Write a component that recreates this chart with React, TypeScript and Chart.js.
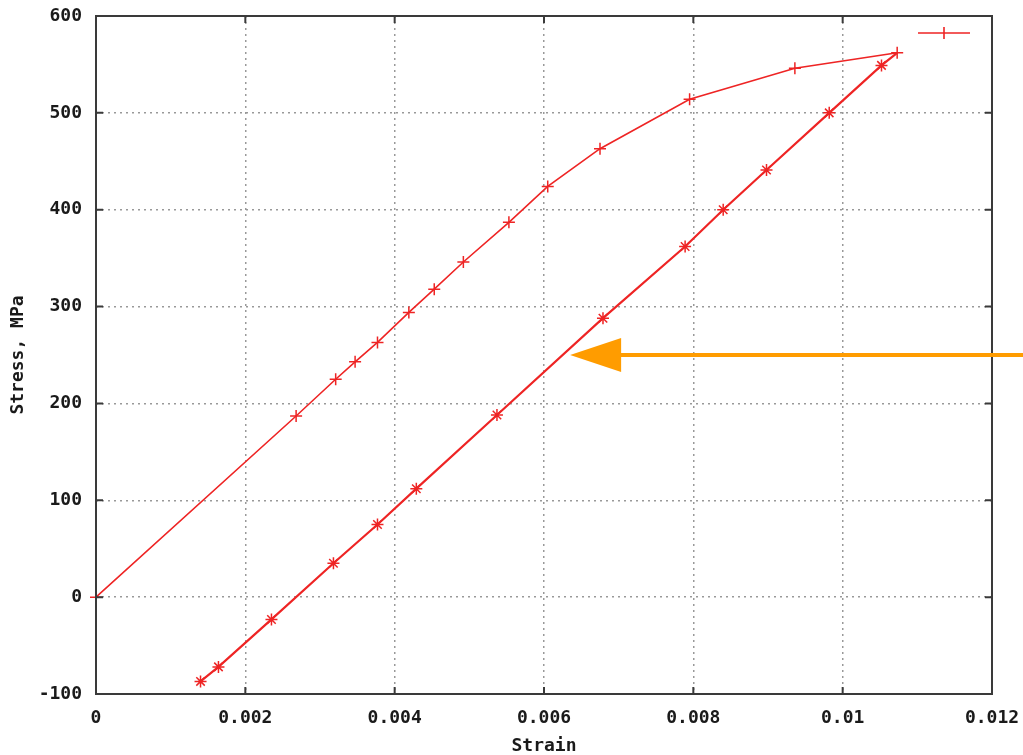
import React, { useEffect, useRef } from "react";
import { Chart, registerables } from "chart.js";
Chart.register(...registerables);

// Loading branch (strain, stress in MPa)
const loadStrain = [0, 0.00268, 0.00321, 0.00347, 0.00377, 0.00419, 0.00453, 0.00492, 0.00553, 0.00605, 0.00675, 0.00795, 0.00936, 0.01073];
const loadStress = [0, 187, 225, 243, 263, 294, 318, 346, 387, 424, 463, 514, 546, 562];
// Unloading branch
const unloadStrain = [0.01073, 0.01052, 0.00982, 0.00898, 0.0084, 0.00789, 0.00679, 0.00537, 0.00429, 0.00377, 0.00318, 0.00235, 0.00164, 0.0014];
const unloadStress = [562, 549, 500, 441, 400, 362, 288, 188, 112, 75, 35, -23, -72, -87];

// Axis ranges / ticks
const xTicks = [0, 0.002, 0.004, 0.006, 0.008, 0.01, 0.012];
const yTicks = [-100, 0, 100, 200, 300, 400, 500, 600];

// Annotation arrow tip (data coords)
const arrowTipStrain = 0.00635;
const arrowTipStress = 250;

const RED = "rgb(238,36,36)";
const FONT = "DejaVu Sans Mono";

const framePlugin = {
  id: "frame",
  afterDraw(chart: any) {
    const { ctx, chartArea: a, scales } = chart;
    ctx.save();
    // frame
    ctx.strokeStyle = "#3a3a3a";
    ctx.lineWidth = 2;
    ctx.strokeRect(a.left, a.top, a.right - a.left, a.bottom - a.top);
    // inward ticks (mirrored)
    ctx.lineWidth = 2;
    const tl = 7;
    ctx.beginPath();
    for (const v of xTicks) {
      const px = scales.x.getPixelForValue(v);
      ctx.moveTo(px, a.bottom);
      ctx.lineTo(px, a.bottom - tl);
      ctx.moveTo(px, a.top);
      ctx.lineTo(px, a.top + tl);
    }
    for (const v of yTicks) {
      const py = scales.y.getPixelForValue(v);
      ctx.moveTo(a.left, py);
      ctx.lineTo(a.left + tl, py);
      ctx.moveTo(a.right, py);
      ctx.lineTo(a.right - tl, py);
    }
    ctx.stroke();

    // legend sample
    const ly = a.top + 17;
    const lx0 = a.right - 74;
    const lx1 = a.right - 22;
    ctx.strokeStyle = RED;
    ctx.lineWidth = 1.6;
    ctx.beginPath();
    ctx.moveTo(lx0, ly);
    ctx.lineTo(lx1, ly);
    const mx = (lx0 + lx1) / 2;
    ctx.moveTo(mx, ly - 6);
    ctx.lineTo(mx, ly + 6);
    ctx.stroke();

    // orange arrow annotation
    const tx = scales.x.getPixelForValue(arrowTipStrain);
    const ty = scales.y.getPixelForValue(arrowTipStress);
    const headLen = 51;
    const headHalf = 17;
    ctx.strokeStyle = "#FF9C00";
    ctx.fillStyle = "#FF9C00";
    ctx.lineWidth = 4;
    ctx.beginPath();
    ctx.moveTo(chart.width, ty);
    ctx.lineTo(tx + headLen - 2, ty);
    ctx.stroke();
    ctx.beginPath();
    ctx.moveTo(tx, ty);
    ctx.lineTo(tx + headLen, ty - headHalf);
    ctx.lineTo(tx + headLen, ty + headHalf);
    ctx.closePath();
    ctx.fill();
    ctx.restore();
  },
};

const fmt = (v: number) => {
  const n = Number(Number(v).toFixed(4));
  return n < 0 ? "-" + String(Math.abs(n)) : String(n);
};

const zeroPad = (s: any) => {
  s.paddingTop = 0;
  s.paddingBottom = 0;
  s.paddingLeft = 0;
  s.paddingRight = 0;
};

export default function App() {
  const ref = useRef<HTMLCanvasElement | null>(null);
  useEffect(() => {
    document.body.style.margin = "0";
    const canvas = ref.current;
    if (!canvas) return;
    const gridColor = (ctx: any) => {
      const n = ctx.scale.ticks.length;
      return ctx.index === 0 || ctx.index === n - 1 ? "rgba(0,0,0,0)" : "#999999";
    };
    const chart = new Chart(canvas, {
      type: "scatter",
      data: {
        datasets: [
          {
            label: "",
            data: loadStrain.map((x, i) => ({ x, y: loadStress[i] })),
            showLine: true,
            borderColor: RED,
            backgroundColor: RED,
            borderWidth: 1.6,
            pointStyle: "cross",
            pointRadius: 6,
            pointBorderWidth: 1.5,
            pointBorderColor: RED,
            clip: false as any,
          },
          {
            label: "",
            data: unloadStrain.map((x, i) => ({ x, y: unloadStress[i] })),
            showLine: true,
            borderColor: RED,
            backgroundColor: RED,
            borderWidth: 2.2,
            pointStyle: "star",
            pointRadius: (c: any) => (c.dataIndex === 0 ? 0 : 6),
            pointBorderWidth: 1.5,
            pointBorderColor: RED,
            clip: false as any,
          },
        ],
      },
      options: {
        animation: false,
        responsive: false,
        maintainAspectRatio: false,
        layout: { padding: { top: 16, right: 31, left: 0, bottom: 0 } },
        plugins: {
          legend: { display: false },
          tooltip: { enabled: false },
        },
        scales: {
          x: {
            type: "linear",
            min: 0,
            max: 0.012,
            afterBuildTicks: (s: any) => {
              s.ticks = xTicks.map((v) => ({ value: v }));
            },
            afterFit: (s: any) => {
              s.height = 61;
              zeroPad(s);
            },
            ticks: {
              autoSkip: false,
              maxRotation: 0,
              padding: 14,
              color: "#1a1a1a",
              font: { family: FONT, size: 18, weight: "bold" },
              callback: (v: any) => fmt(v),
            },
            grid: {
              color: gridColor,
              lineWidth: 1.5,
              drawTicks: false,
            },
            border: { display: false, dash: [2, 4] },
            title: {
              display: true,
              text: "Strain",
              color: "#1a1a1a",
              font: { family: FONT, size: 18, weight: "bold" },
              padding: { top: 0, bottom: -2 },
            },
          },
          y: {
            type: "linear",
            min: -100,
            max: 600,
            afterBuildTicks: (s: any) => {
              s.ticks = yTicks.map((v) => ({ value: v }));
            },
            afterFit: (s: any) => {
              s.width = 96;
              zeroPad(s);
            },
            ticks: {
              autoSkip: false,
              padding: 14,
              color: "#1a1a1a",
              font: { family: FONT, size: 18, weight: "bold" },
              callback: (v: any) => fmt(v),
            },
            grid: {
              color: gridColor,
              lineWidth: 1.5,
              drawTicks: false,
            },
            border: { display: false, dash: [2, 4] },
            title: {
              display: true,
              text: "Stress, MPa",
              color: "#1a1a1a",
              font: { family: FONT, size: 18, weight: "bold" },
              padding: { top: 8, bottom: 0 },
            },
          },
        },
      },
      plugins: [framePlugin],
    });
    return () => chart.destroy();
  }, []);
  return (
    <div style={{ position: "fixed", left: 0, top: 0, width: 1023, height: 755, background: "#fff" }}>
      <canvas ref={ref} width={1023} height={755} style={{ width: 1023, height: 755, display: "block" }} />
    </div>
  );
}
